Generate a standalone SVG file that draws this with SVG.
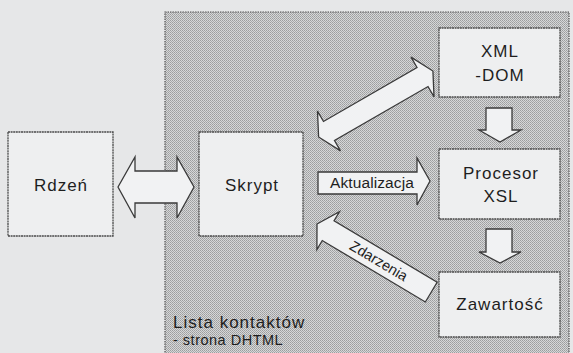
<svg xmlns="http://www.w3.org/2000/svg" width="573" height="353" viewBox="0 0 573 353">
<defs>
<pattern id="dots" width="2" height="2" patternUnits="userSpaceOnUse">
<rect width="2" height="2" fill="#d6d7d8"/>
<rect width="1" height="1" fill="#9c9d9e"/>
<rect x="1" y="1" width="1" height="1" fill="#a8a9aa"/>
</pattern>
<style>
.box{fill:#eeeff0;stroke:#4a4a4a;stroke-width:1.3;stroke-dasharray:2 0.6}
.arr{fill:#f1f2f3;stroke:#3a3a3a;stroke-width:1.3;stroke-linejoin:miter}
.lbl{font-family:"Liberation Sans",Arial,sans-serif;font-size:17px;letter-spacing:1px;fill:#1e1e1e;text-anchor:middle}
.sm{font-family:"Liberation Sans",Arial,sans-serif;font-size:15px;fill:#1e1e1e}
</style>
</defs>
<rect width="573" height="353" fill="#e6e7e8"/>
<g id="page">
<rect x="165" y="12" width="404" height="350" fill="url(#dots)" stroke="#555" stroke-width="1.2" stroke-dasharray="1.5 1"/>
<text class="sm" x="173" y="328" style="font-size:17px;letter-spacing:1px">Lista kontaktów</text>
<text class="sm" x="173" y="345" style="font-size:14.5px;letter-spacing:0.5px">- strona DHTML</text>
</g>
<g id="rdzen">
<rect class="box" x="8" y="132" width="105" height="104"/>
<text class="lbl" x="61" y="191">Rdzeń</text>
</g>
<g id="skrypt">
<rect class="box" x="199" y="132" width="104" height="104"/>
<text class="lbl" x="252" y="191">Skrypt</text>
</g>
<g id="xmldom">
<rect class="box" x="439" y="28" width="121" height="69"/>
<text class="lbl" x="500" y="57">XML</text>
<text class="lbl" x="500" y="81">-DOM</text>
</g>
<g id="procesor">
<rect class="box" x="439" y="149" width="121" height="70"/>
<text class="lbl" x="501" y="179">Procesor</text>
<text class="lbl" x="501" y="202">XSL</text>
</g>
<g id="zawartosc">
<rect class="box" x="439" y="272" width="121" height="65"/>
<text class="lbl" x="500" y="310">Zawartość</text>
</g>
<g id="connectors">
<polygon class="arr" points="118,187 135,157 135,171 177,171 177,157 194,187 177,218 177,203 135,203 135,218"/>
<polygon class="arr" transform="translate(318.6,137) rotate(-30)" points="0,0 12,-23 12,-11 120,-11 120,-23 132,0 120,23 120,11 12,11 12,23"/>
<polygon class="arr" points="318,172 417,172 417,158 430,181 417,205 417,194 318,194"/>
<text class="sm" x="330" y="188" style="font-size:15.5px;letter-spacing:0.1px">Aktualizacja</text>
<polygon class="arr" points="486,108 512,108 512,130 521,130 500,142 479,130 486,130"/>
<polygon class="arr" points="486,229 512,229 512,252 521,252 500,263 479,252 486,252"/>
<g transform="translate(317,224) rotate(30.8)">
<polygon class="arr" points="0,0 13,-22 13,-11.5 133,-11.5 133,11.5 13,11.5 13,22"/>
<text class="sm" x="72" y="5" text-anchor="middle" style="font-size:14.5px">Zdarzenia</text>
</g>
</g>
</svg>
